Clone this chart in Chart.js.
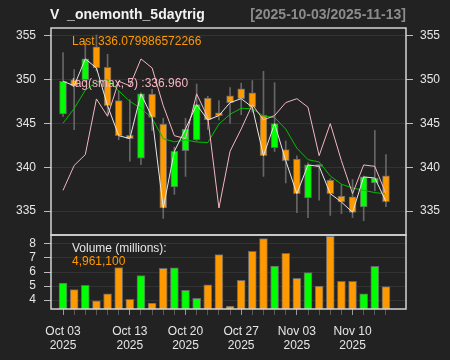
<!DOCTYPE html>
<html>
<head>
<meta charset="utf-8">
<script src="https://cdn.jsdelivr.net/npm/chart.js@4.4.1/dist/chart.umd.min.js"></script>
<style>
  html, body { margin: 0; padding: 0; background: #222222; }
  #wrap { position: relative; width: 450px; height: 360px; overflow: hidden;
          font-family: "Liberation Sans", Arial, sans-serif; }
  #priceChart { position: absolute; left: 0; top: 0; }
  #volChart { position: absolute; left: 0; top: 233px; }
  .lbl { position: absolute; white-space: nowrap; font-size: 12px; line-height: 14px; }
  .ttl { position: absolute; white-space: nowrap; font-size: 14px; line-height: 16px; font-weight: bold; top: 6px; }
</style>
</head>
<body>
<div id="wrap">
  <canvas id="priceChart" width="450" height="240"></canvas>
  <canvas id="volChart" width="450" height="127"></canvas>
  <div class="ttl" style="left:50px;color:#f2f2f2;">V &nbsp;_onemonth_5daytrig</div>
  <div class="ttl" style="right:44px;color:#8c8c8c;">[2025-10-03/2025-11-13]</div>
  <div class="lbl" style="left:72px;top:34px;color:#ff9900;">Last 336.079986572266</div>
  <div class="lbl" style="left:72px;top:76px;color:#f4b6c2;">lag(smax, 5) :336.960</div>
  <div class="lbl" style="left:72px;top:241px;color:#e6e6e6;">Volume (millions):</div>
  <div class="lbl" style="left:72px;top:254px;color:#ff9900;">4,961,100</div>
</div>
<script>
const dates = [
  "2025-10-03", "2025-10-06", "2025-10-07", "2025-10-08", "2025-10-09", "2025-10-10",
  "2025-10-13", "2025-10-14", "2025-10-15", "2025-10-16", "2025-10-17",
  "2025-10-20", "2025-10-21", "2025-10-22", "2025-10-23", "2025-10-24",
  "2025-10-27", "2025-10-28", "2025-10-29", "2025-10-30", "2025-10-31",
  "2025-11-03", "2025-11-04", "2025-11-05", "2025-11-06", "2025-11-07",
  "2025-11-10", "2025-11-11", "2025-11-12", "2025-11-13"
];
const open = [346.09, 349.97, 350.0, 353.74, 351.42, 347.6, 343.65, 341.02, 348.35, 344.94,
  337.76, 341.9, 343.12, 347.9, 346.22, 348.16, 348.94, 348.5, 345.92, 342.22,
  342.02, 340.94, 336.5, 340.3, 338.52, 336.7, 336.62, 335.48, 338.2, 339.02];
const high = [353.1, 351.15, 354.35, 355.1, 352.9, 348.7, 347.7, 348.5, 348.9, 345.6,
  342.3, 345.6, 349.5, 348.1, 347.6, 349.1, 349.6, 349.9, 350.95, 349.65,
  343.0, 341.3, 340.5, 340.3, 338.7, 338.0, 338.6, 339.0, 344.2, 341.45];
const low = [345.8, 344.3, 349.7, 351.0, 346.0, 343.15, 340.7, 340.3, 344.2, 334.15,
  336.9, 338.95, 343.0, 344.3, 345.4, 345.0, 346.0, 346.3, 338.95, 341.8,
  338.2, 334.8, 334.25, 336.25, 334.5, 334.7, 334.25, 333.9, 337.3, 335.5];
const close = [349.82, 349.3, 352.37, 351.34, 347.03, 343.6, 343.27, 348.37, 345.7, 335.34,
  341.82, 344.37, 347.15, 345.4, 345.9, 347.38, 347.83, 346.85, 341.32, 344.98,
  340.75, 336.98, 340.26, 340.1, 336.98, 336.03, 334.85, 338.89, 338.77, 336.08];
const sma5 = [345.02, 346.7, 348.8, 349.73, 349.97, 348.73, 347.52, 346.72, 345.59, 343.26,
  342.9, 343.12, 342.88, 342.82, 344.93, 346.04, 346.73, 346.67, 345.86, 345.67,
  344.35, 342.18, 340.86, 340.6, 339.0, 338.06, 337.63, 337.36, 337.1, 336.96];
const lagSmax = [337.36, 340.2, 341.44, 347.8, 345.82, 349.82, 349.3, 352.37, 351.34, 347.03,
  343.6, 343.27, 348.37, 345.7, 335.34, 341.82, 344.37, 347.15, 345.4, 345.9,
  347.38, 347.83, 346.85, 341.32, 344.98, 340.75, 336.98, 340.26, 340.1, 336.96];
// volume in millions
const volume = [5.21, 4.74, 5.05, 3.95, 4.45, 6.31, 4.05, 5.74, 3.79, 6.26,
  6.29, 4.69, 4.12, 5.09, 7.24, 3.57, 5.41, 7.48, 8.38, 6.43,
  7.33, 5.55, 5.95, 5.0, 8.55, 5.33, 5.33, 4.45, 6.41, 4.96];

const priceTicks = [335, 340, 345, 350, 355];
const volTicks = [4, 5, 6, 7, 8];
const majorIdx = [0, 6, 11, 16, 21, 26];
const majorLabels = [["Oct 03", "2025"], ["Oct 13", "2025"], ["Oct 20", "2025"],
  ["Oct 27", "2025"], ["Nov 03", "2025"], ["Nov 10", "2025"]];

const UP = "#00ff00";
const DOWN = "#ff9900";
const X_MIN = -1.08, X_MAX = 30.8;

Chart.defaults.font.family = "'Liberation Sans', Arial, sans-serif";
Chart.defaults.font.size = 12;
Chart.defaults.color = "#e6e6e6";

const candleColors = close.map((c, i) => (c >= open[i] ? UP : DOWN));

const framePlugin = {
  id: "frame",
  afterDraw(chart) {
    const { ctx, chartArea: a } = chart;
    ctx.save();
    ctx.strokeStyle = "#d4d4d4";
    ctx.lineWidth = 1.5;
    ctx.strokeRect(a.left, a.top, a.right - a.left, a.bottom - a.top);
    ctx.restore();
  }
};

// fixed axis box size, no label overflow padding
function fixBox(w, h) {
  return (s) => {
    if (w != null) s.width = w;
    if (h != null) s.height = h;
    s.paddingTop = 0; s.paddingBottom = 0; s.paddingLeft = 0; s.paddingRight = 0;
  };
}

const lineSet = (data, color, order) => ({
  type: "line",
  data: data.map((v, i) => ({ x: i, y: v })),
  borderColor: color,
  borderWidth: 1,
  pointRadius: 0,
  tension: 0,
  order
});

new Chart(document.getElementById("priceChart"), {
  type: "bar",
  data: {
    datasets: [
      {
        data: dates.map((d, i) => ({ x: i, y: [low[i], high[i]] })),
        backgroundColor: "#666666",
        barThickness: 1,
        grouped: false,
        order: 6
      },
      {
        data: dates.map((d, i) => ({ x: i, y: [open[i], close[i]] })),
        backgroundColor: candleColors,
        borderColor: "#666666",
        borderWidth: 1,
        borderSkipped: false,
        barThickness: 7,
        grouped: false,
        order: 5
      },
      lineSet(sma5, "#00c000", 3),
      lineSet(lagSmax, "#f4b6c2", 2),
      lineSet(close, "#e8e8e8", 1)
    ]
  },
  options: {
    responsive: false,
    animation: false,
    layout: { autoPadding: false, padding: { top: 28, bottom: 5, left: 0, right: 0 } },
    plugins: { legend: { display: false }, tooltip: { enabled: false } },
    scales: {
      x: { type: "linear", display: false, offset: false, min: X_MIN, max: X_MAX },
      y: {
        position: "left",
        min: 332.26,
        max: 355.9,
        afterBuildTicks: (s) => { s.ticks = priceTicks.map((v) => ({ value: v })); },
        afterFit: fixBox(51, null),
        ticks: { padding: 8 },
        grid: { color: "#333333", tickColor: "#bbbbbb", tickLength: 7 },
        border: { display: false }
      },
      yR: {
        position: "right",
        min: 332.26,
        max: 355.9,
        afterBuildTicks: (s) => { s.ticks = priceTicks.map((v) => ({ value: v })); },
        afterFit: fixBox(44, null),
        ticks: { padding: 7 },
        grid: { drawOnChartArea: false, tickColor: "#bbbbbb", tickLength: 7 },
        border: { display: false }
      }
    }
  },
  plugins: [framePlugin]
});

new Chart(document.getElementById("volChart"), {
  type: "bar",
  data: {
    datasets: [{
      data: volume.map((v, i) => ({ x: i, y: v })),
      backgroundColor: candleColors,
      borderColor: "#666666",
      borderWidth: 1,
      borderSkipped: false,
      barThickness: 8
    }]
  },
  options: {
    responsive: false,
    animation: false,
    layout: { autoPadding: false, padding: { top: 2, bottom: 0, left: 0, right: 44 } },
    plugins: { legend: { display: false }, tooltip: { enabled: false } },
    scales: {
      x: {
        type: "linear",
        offset: false,
        min: X_MIN,
        max: X_MAX,
        afterBuildTicks: (s) => { s.ticks = dates.map((d, i) => ({ value: i })); },
        afterFit: fixBox(null, 51),
        ticks: {
          autoSkip: false,
          maxRotation: 0,
          padding: 9,
          callback: (v) => {
            const k = majorIdx.indexOf(v);
            return k >= 0 ? majorLabels[k] : "";
          }
        },
        grid: {
          offset: false,
          drawOnChartArea: false,
          tickLength: 6,
          tickColor: (c) => (majorIdx.includes(c.tick && c.tick.value) ? "#999999" : "#5a5a5a")
        },
        border: { display: false }
      },
      y: {
        position: "left",
        min: 3.36,
        max: 8.64,
        afterBuildTicks: (s) => { s.ticks = volTicks.map((v) => ({ value: v })); },
        afterFit: fixBox(51, null),
        ticks: { padding: 8 },
        grid: { color: "#333333", tickColor: "#bbbbbb", tickLength: 7 },
        border: { display: false }
      }
    }
  },
  plugins: [framePlugin]
});
</script>
</body>
</html>
